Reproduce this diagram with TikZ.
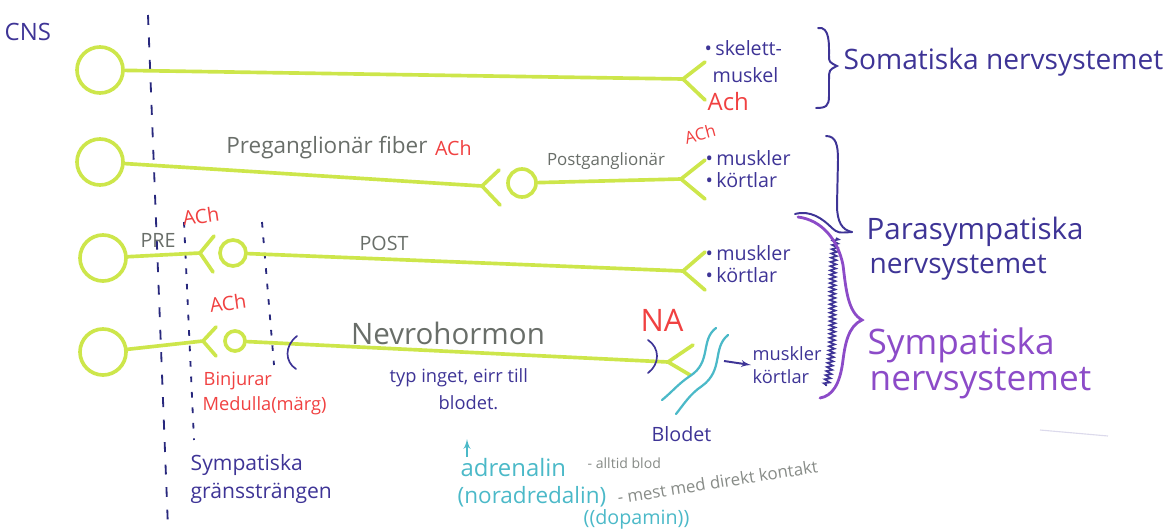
\documentclass[tikz,border=0pt]{standalone}
\usepackage{fontspec}
\setmainfont{Open Sans}
\usetikzlibrary{arrows,positioning,calc,decorations.pathmorphing}

\definecolor{nerve}{RGB}{205,230,75}
\definecolor{ink}{RGB}{62,52,150}
\definecolor{sympurple}{RGB}{140,75,200}
\definecolor{achred}{RGB}{240,65,65}
\definecolor{pencil}{RGB}{105,110,105}
\definecolor{blood}{RGB}{75,185,200}
\definecolor{navy}{RGB}{40,40,125}

\newcommand{\handfont}[1]{\fontsize{#1}{#1}\selectfont}

\tikzstyle{axon} = [draw=nerve, line width=2.6pt, line cap=round]
\tikzstyle{soma} = [draw=nerve, line width=2.6pt, circle, inner sep=0pt, minimum size=1.15cm]
\tikzstyle{ganglion} = [soma, minimum size=0.7cm]
\tikzstyle{divider} = [draw=navy, line width=1.3pt, dash pattern=on 7pt off 9pt]
\tikzstyle{note} = [inner sep=1pt, anchor=west]
\tikzstyle{target} = [note, text=ink, font=\handfont{14}, align=left]
\tikzstyle{acn} = [inner sep=1pt, text=achred, font=\handfont{14}]
\tikzstyle{fibre} = [inner sep=1pt, text=pencil, font=\handfont{14}]
\tikzstyle{bloodnote} = [note, text=blood, font=\handfont{16}]
\tikzstyle{aside} = [note, text=pencil!80, font=\handfont{10}]
\tikzstyle{system} = [note, font=\handfont{20}]
\tikzstyle{brace} = [draw, line width=1.4pt, line cap=round]
\tikzstyle{line} = [draw, -latex']

\begin{document}
\begin{tikzpicture}[x=0.025cm, y=-0.025cm]
    \useasboundingbox (0,0) rectangle (1176,528);

    % dashed borders
    \draw [divider] (148,15) -- (168,528);
    \draw [divider, dash pattern=on 4pt off 7pt] (184,222) -- (194,440);
    \draw [divider, dash pattern=on 4pt off 7pt] (262,222) -- (274,365);

    \node [note, text=ink, font=\handfont{17}] (cns) at (3,32) {CNS};

    % somatic
    \node [soma] (s1) at (100,70) {};
    \coordinate (f1) at (683,79);
    \draw [axon] (s1) -- (f1) -- ++(22,-17) (f1) -- ++(22,21);
    \node [target] (skel) at (703,48) {\textbullet\,skelett-};
    \node [target] (musk) at (711,75) {muskel};
    \node [note, text=achred, font=\handfont{17}] (ach1) at (706,102) {Ach};
    \draw [brace, ink] (818,28) .. controls (830,26) and (829,45) .. (829,55)
        .. controls (829,62) .. (837,66) .. controls (829,70) .. (829,80)
        -- (829,96) .. controls (829,106) and (826,108) .. (816,108);
    \node [system, text=ink] (somsys) at (842,62) {Somatiska nervsystemet};

    % parasympathetic
    \node [soma] (s2) at (100,162) {};
    \coordinate (pre2) at (482,186);
    \draw [axon] (s2) -- (pre2) -- ++(17,-16) (pre2) -- ++(18,19);
    \node [ganglion] (g2) at (522,183) {};
    \coordinate (f2) at (681,179);
    \draw [axon] (g2) -- (f2) -- ++(24,-19) (f2) -- ++(24,20);
    \node [fibre, font=\handfont{16}] (prefib) at (327,148) {Preganglionär fiber};
    \node [acn, right=3pt of prefib] (ach2) {ACh};
    \node [fibre, font=\handfont{12}] (postfib) at (606,161) {Postganglionär};
    \node [acn, font=\handfont{12}, rotate=15] (ach3) at (700,134) {ACh};
    \node [target] (org2) at (704,169) {\textbullet\,muskler\\[2pt]\textbullet\,körtlar};

    \node [soma] (s3) at (103,258) {};
    \coordinate (pre3) at (200,253);
    \draw [axon] (s3) -- (pre3) -- ++(14,-17) (pre3) -- ++(13,19);
    \node [ganglion, minimum size=0.65cm] (g3) at (233,253) {};
    \coordinate (f3) at (683,271);
    \draw [axon] (g3) -- (f3) -- ++(22,-19) (f3) -- ++(22,19);
    \node [fibre] (pre) at (158,240) {PRE};
    \node [acn, rotate=8] (ach4) at (201,216) {ACh};
    \node [fibre] (post) at (384,243) {POST};
    \node [target] (org3) at (704,264) {\textbullet\,muskler\\[2pt]\textbullet\,körtlar};

    % sympathetic, adrenal medulla
    \node [soma] (s4) at (103,352) {};
    \coordinate (pre4) at (203,341);
    \draw [axon] (s4) -- (pre4) -- ++(13,-14) (pre4) -- ++(13,15);
    \node [ganglion, minimum size=0.5cm] (g4) at (235,341) {};
    \coordinate (f4) at (668,362);
    \draw [axon] (g4) -- (f4) -- ++(25,-17) (f4) -- ++(22,13);
    \node [acn, rotate=8] (ach5) at (228,303) {ACh};
    \draw [ink, line width=1.2pt, line cap=round] (297,336) .. controls (284,346) and (285,362) .. (296,369);
    \draw [ink, line width=1.2pt, line cap=round] (648,340) .. controls (660,348) and (660,364) .. (648,373);
    \node [fibre, font=\handfont{21}] (hormon) at (448,333) {Nevrohormon};
    \node [acn, font=\handfont{22}] (na) at (662,320) {NA};
    \node [target, font=\handfont{13}] (typ) at (388,378) {typ inget, eirr till};
    \node [target, font=\handfont{13}] (blodet1) at (437,403) {blodet.};
    \node [note, text=achred, font=\handfont{13}] (binj) at (202,381) {Binjurar};
    \node [note, text=achred, font=\handfont{13}] (medulla) at (201,406) {Medulla(märg)};

    % blood
    \draw [blood, line width=1.6pt, line cap=round] (716,328) .. controls (700,340) and (712,362) .. (690,376)
        .. controls (678,384) and (672,392) .. (662,400);
    \draw [blood, line width=1.6pt, line cap=round] (728,335) .. controls (712,348) and (724,370) .. (702,386)
        .. controls (690,394) and (684,404) .. (676,414);
    \node [target, font=\handfont{13}] (org4) at (751,365) {muskler\\[3pt]körtlar};
    \coordinate (bout) at (724,361);
    \path [line, ink, line width=1.4pt] (bout) -- (org4.west);
    \node [target] (blodet2) at (650,434) {Blodet};

    % braces
    \draw [brace, ink] (826,136) .. controls (836,136) and (838,145) .. (838,160)
        -- (837,205) .. controls (837,222) and (842,230) .. (852,232);
    \draw [brace, ink] (795,214) .. controls (810,210) and (822,218) .. (832,228)
        .. controls (838,233) .. (852,232);
    \draw [ink, line width=1.2pt, decorate, decoration={zigzag, segment length=3pt, amplitude=2pt}]
        (836,238) .. controls (828,290) and (838,340) .. (826,386);
    \draw [brace, sympurple, line width=2pt] (798,217) .. controls (822,220) and (838,240) .. (843,265)
        .. controls (846,290) and (848,312) .. (862,320) .. controls (848,326) and (845,345) .. (843,360)
        .. controls (840,385) and (832,396) .. (820,398);
    \node [system, text=ink, font=\handfont{21}] (para1) at (865,232) {Parasympatiska};
    \node [system, text=ink, font=\handfont{20}] (para2) at (868,268) {nervsystemet};
    \node [system, text=sympurple, font=\handfont{25}] (symp1) at (866,345) {Sympatiska};
    \node [system, text=sympurple, font=\handfont{25}] (symp2) at (868,383) {nervsystemet};

    % sympathetic trunk
    \node [target, font=\handfont{15}] (trunk1) at (189,465) {Sympatiska};
    \node [target, font=\handfont{15}] (trunk2) at (189,493) {gränssträngen};

    % hormones
    \node [bloodnote, font=\handfont{17}] (adr) at (459,468) {adrenalin};
    \path [line, blood, line width=1.4pt] ($(adr.north west)+(8,0)$) -- ++(0,-18);
    \node [aside] (alltid) at (586,463) {- alltid blod};
    \node [bloodnote] (nor) at (456,497) {(noradredalin)};
    \node [aside, font=\handfont{12}, rotate=9] (mest) at (616,498) {- mest med direkt kontakt};
    \node [bloodnote, font=\handfont{14}] (dop) at (582,519) {((dopamin))};
    \draw [ink!30, opacity=0.6, line width=0.8pt] (1040,430) -- (1108,436);
\end{tikzpicture}
\end{document}
